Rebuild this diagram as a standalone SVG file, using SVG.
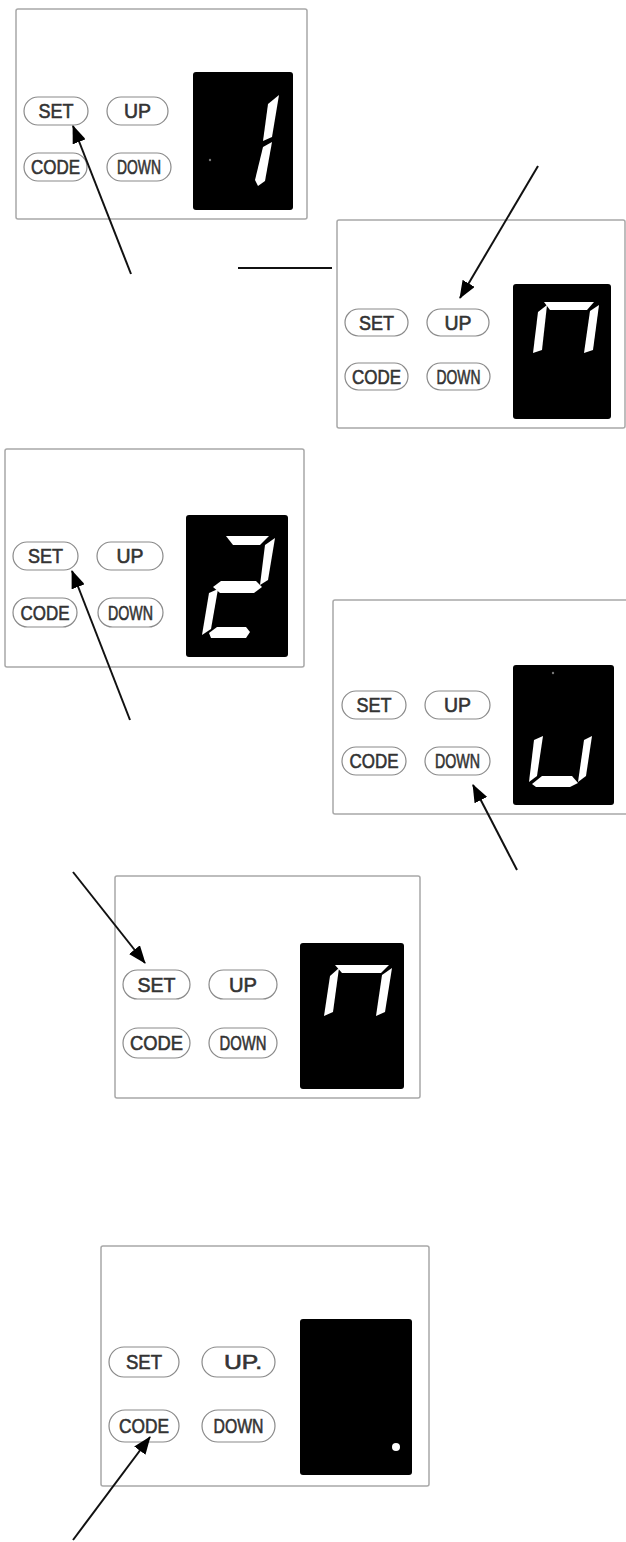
<svg xmlns="http://www.w3.org/2000/svg" width="626" height="1542" viewBox="0 0 626 1542">
<style>
.panel{fill:#fff;stroke:#a8a8a8;stroke-width:1.5}
.disp{fill:#000}
.btn{fill:#fff;stroke:#8a8a8a;stroke-width:1.2}
.lbl{font-family:"Liberation Sans",Arial,sans-serif;font-weight:normal;font-size:20px;fill:#333;stroke:#333;stroke-width:0.6;text-anchor:middle}
.seg{fill:#fff}
.conn{stroke:#111;stroke-width:2;fill:none}
</style>
<defs>
<marker id="ah" markerUnits="userSpaceOnUse" markerWidth="18" markerHeight="14" refX="17" refY="7" orient="auto">
<path d="M0,0 L18,7 L0,14 z" fill="#000"/>
</marker>
</defs>
<rect width="626" height="1542" fill="#fff"/>

<g id="panel1">
<rect class="panel" x="16" y="9" width="291" height="210" rx="2"/>
<rect class="disp" x="193" y="72" width="100" height="138" rx="3"/>
<circle cx="210" cy="160" r="1.2" fill="#777"/>
<polygon class="seg" points="268,104 279,95 272,137 263,141"/>
<polygon class="seg" points="263,147 272,142 265,181 258,186 255,180"/>
<rect class="btn" x="24" y="97" width="64" height="28" rx="14"/>
<text class="lbl" x="56" y="118" textLength="35" lengthAdjust="spacingAndGlyphs">SET</text>
<rect class="btn" x="107" y="97" width="61" height="28" rx="14"/>
<text class="lbl" x="137.5" y="118" textLength="27" lengthAdjust="spacingAndGlyphs">UP</text>
<rect class="btn" x="24" y="153" width="63" height="28" rx="14"/>
<text class="lbl" x="55.5" y="174" textLength="49" lengthAdjust="spacingAndGlyphs">CODE</text>
<rect class="btn" x="107" y="153" width="64" height="28" rx="14"/>
<text class="lbl" x="139" y="174" textLength="44" lengthAdjust="spacingAndGlyphs">DOWN</text>
</g>

<g id="panel2">
<rect class="panel" x="337" y="220" width="288" height="208" rx="2"/>
<rect class="disp" x="513" y="284" width="98" height="135" rx="3"/>
<polygon class="seg" points="538,312 547,305 542,350 533,353"/>
<polygon class="seg" points="544,302 594,302 587,310 550,310"/>
<polygon class="seg" points="590,311 599,305 593,350 584,353"/>
<rect class="btn" x="345" y="309" width="63" height="27" rx="13.5"/>
<text class="lbl" x="376.5" y="329.5" textLength="35" lengthAdjust="spacingAndGlyphs">SET</text>
<rect class="btn" x="427" y="309" width="62" height="27" rx="13.5"/>
<text class="lbl" x="458" y="329.5" textLength="27" lengthAdjust="spacingAndGlyphs">UP</text>
<rect class="btn" x="345" y="363" width="63" height="27" rx="13.5"/>
<text class="lbl" x="376.5" y="383.5" textLength="49" lengthAdjust="spacingAndGlyphs">CODE</text>
<rect class="btn" x="427" y="363" width="63" height="27" rx="13.5"/>
<text class="lbl" x="458.5" y="383.5" textLength="44" lengthAdjust="spacingAndGlyphs">DOWN</text>
</g>

<g id="panel3">
<rect class="panel" x="5" y="449" width="299" height="218" rx="2"/>
<rect class="disp" x="186" y="515" width="102" height="142" rx="3"/>
<polygon class="seg" points="226,536 269,536 260,545 233,545"/>
<polygon class="seg" points="265,545 275,538 268,580 260,585"/>
<polygon class="seg" points="213,587 221,581 256,581 262,587 254,593 220,593"/>
<polygon class="seg" points="209,593 218,589 211,629 202,635"/>
<polygon class="seg" points="209,633 217,627 246,627 250,632 246,638 211,638"/>
<rect class="btn" x="13" y="542" width="65" height="28" rx="14"/>
<text class="lbl" x="45.5" y="563" textLength="35" lengthAdjust="spacingAndGlyphs">SET</text>
<rect class="btn" x="97" y="542" width="66" height="28" rx="14"/>
<text class="lbl" x="130" y="563" textLength="27" lengthAdjust="spacingAndGlyphs">UP</text>
<rect class="btn" x="13" y="598" width="64" height="29" rx="14.5"/>
<text class="lbl" x="45" y="619.5" textLength="49" lengthAdjust="spacingAndGlyphs">CODE</text>
<rect class="btn" x="98" y="598" width="65" height="29" rx="14.5"/>
<text class="lbl" x="130.5" y="619.5" textLength="45" lengthAdjust="spacingAndGlyphs">DOWN</text>
</g>

<g id="panel4">
<rect class="panel" x="333" y="600" width="300" height="214" rx="2"/>
<rect class="disp" x="513" y="665" width="101" height="140" rx="3"/>
<circle cx="553" cy="673" r="1.2" fill="#777"/>
<polygon class="seg" points="534,740 543,736 537,776 529,782"/>
<polygon class="seg" points="584,740 592,736 586,776 578,782"/>
<polygon class="seg" points="532,784 542,776 572,776 578,783 570,787 536,787"/>
<rect class="btn" x="342" y="691" width="64" height="28" rx="14"/>
<text class="lbl" x="374" y="712" textLength="35" lengthAdjust="spacingAndGlyphs">SET</text>
<rect class="btn" x="425" y="691" width="65" height="28" rx="14"/>
<text class="lbl" x="457.5" y="712" textLength="27" lengthAdjust="spacingAndGlyphs">UP</text>
<rect class="btn" x="342" y="747" width="64" height="28" rx="14"/>
<text class="lbl" x="374" y="768" textLength="49" lengthAdjust="spacingAndGlyphs">CODE</text>
<rect class="btn" x="425" y="747" width="65" height="28" rx="14"/>
<text class="lbl" x="457.5" y="768" textLength="45" lengthAdjust="spacingAndGlyphs">DOWN</text>
</g>

<g id="panel5">
<rect class="panel" x="115" y="876" width="305" height="222" rx="2"/>
<rect class="disp" x="300" y="943" width="104" height="146" rx="3"/>
<polygon class="seg" points="330,976 339,968 333,1012 324,1016"/>
<polygon class="seg" points="335,965 389,965 381,973 342,973"/>
<polygon class="seg" points="382,975 392,968 385,1012 376,1016"/>
<rect class="btn" x="123" y="970" width="67" height="29" rx="14.5"/>
<text class="lbl" x="156.5" y="991.5" textLength="38" lengthAdjust="spacingAndGlyphs">SET</text>
<rect class="btn" x="209" y="970" width="68" height="29" rx="14.5"/>
<text class="lbl" x="243" y="991.5" textLength="28" lengthAdjust="spacingAndGlyphs">UP</text>
<rect class="btn" x="123" y="1028" width="67" height="30" rx="15"/>
<text class="lbl" x="156.5" y="1050" textLength="53" lengthAdjust="spacingAndGlyphs">CODE</text>
<rect class="btn" x="209" y="1028" width="68" height="30" rx="15"/>
<text class="lbl" x="243" y="1050" textLength="47" lengthAdjust="spacingAndGlyphs">DOWN</text>
</g>

<g id="panel6">
<rect class="panel" x="101" y="1246" width="328" height="240" rx="2"/>
<rect class="disp" x="300" y="1319" width="112" height="156" rx="3"/>
<circle cx="396" cy="1447" r="4" fill="#fff"/>
<rect class="btn" x="109" y="1347" width="70" height="30" rx="15"/>
<text class="lbl" x="144" y="1369" textLength="36" lengthAdjust="spacingAndGlyphs">SET</text>
<rect class="btn" x="202" y="1347" width="73" height="30" rx="15"/>
<text class="lbl" x="243" y="1369" textLength="38" lengthAdjust="spacingAndGlyphs">UP.</text>
<rect class="btn" x="109" y="1410" width="70" height="32" rx="16"/>
<text class="lbl" x="144" y="1433" textLength="50" lengthAdjust="spacingAndGlyphs">CODE</text>
<rect class="btn" x="202" y="1410" width="73" height="32" rx="16"/>
<text class="lbl" x="238.5" y="1433" textLength="50" lengthAdjust="spacingAndGlyphs">DOWN</text>
</g>

<g id="connectors">
<line class="conn" x1="131" y1="274" x2="73" y2="126" marker-end="url(#ah)"/>
<line class="conn" x1="238" y1="268" x2="332" y2="268"/>
<line class="conn" x1="538" y1="166" x2="460" y2="298" marker-end="url(#ah)"/>
<line class="conn" x1="130" y1="720" x2="72" y2="571" marker-end="url(#ah)"/>
<line class="conn" x1="517" y1="870" x2="473" y2="785" marker-end="url(#ah)"/>
<line class="conn" x1="73" y1="872" x2="145" y2="963" marker-end="url(#ah)"/>
<line class="conn" x1="73" y1="1540" x2="150" y2="1437" marker-end="url(#ah)"/>
</g>
</svg>
